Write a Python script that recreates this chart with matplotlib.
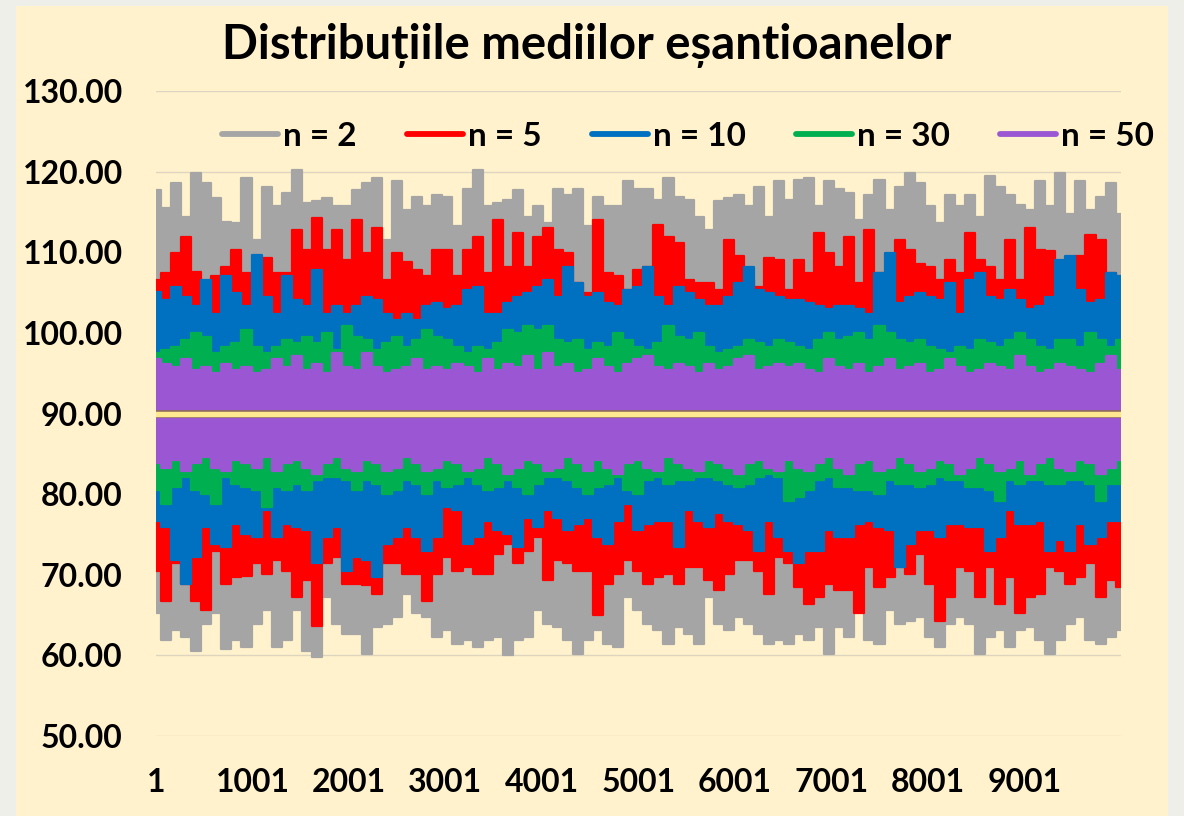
import numpy as np
import matplotlib
matplotlib.use("Agg")
import matplotlib.pyplot as plt
from matplotlib.lines import Line2D
from matplotlib.patches import Rectangle

plt.rcParams['font.family'] = ['Lato', 'DejaVu Sans']
plt.rcParams['font.weight'] = 'bold'

title = "Distribuțiile mediilor eșantioanelor"
series_names = ["n = 2", "n = 5", "n = 10", "n = 30", "n = 50"]
series_colors = ["#A5A5A5", "#FF0000", "#0070C0", "#00B050", "#9B57D3"]
n_samples = 10000
x_tick_labels = ["1", "1001", "2001", "3001", "4001", "5001", "6001", "7001", "8001", "9001"]
y_ticks = [50, 60, 70, 80, 90, 100, 110, 120, 130]
mean_line = 90.0

# Envelopes (upper / lower extremes) of each series of sample means, read column by column
grey_upper = [117.7, 115.5, 118.6, 114.4, 119.8, 118.6, 116.7, 113.8, 113.6, 119.2, 111.5, 118.1, 115.7, 117.3, 120.2,
              116.1, 116.3, 116.7, 115.7, 115.7, 117.7, 118.6, 119.2, 111.5, 118.8, 115.2, 116.9, 115.7, 117.1,
              116.9, 113.2, 117.9, 120.2, 115.7, 116.1, 116.5, 117.7, 114.4, 115.7, 113.6, 117.9, 117.1, 117.9,
              113.2, 116.9, 115.7, 115.7, 118.8, 117.9, 117.9, 116.5, 119.2, 116.9, 116.5, 114.4, 112.8, 116.3,
              116.7, 117.1, 115.7, 118.1, 114.4, 118.8,
              116.5, 119.0, 119.2, 115.7, 118.8, 117.9, 117.3, 114.0, 117.1, 119.0, 115.2, 118.1, 119.8, 118.6,
              115.7, 113.6, 117.1, 115.7, 117.1, 114.4, 119.4, 118.1, 117.1, 115.9, 115.2, 118.8, 115.7, 119.8,
              114.8, 118.8, 115.2, 116.9, 118.6, 114.8]
grey_lower = [65.2, 61.9, 63.1, 62.3, 60.6, 63.9, 65.2, 60.8, 61.9, 61.0, 63.9, 65.6, 61.0, 61.9, 65.6, 60.6, 59.8,
              67.2, 63.9, 62.7, 62.7, 60.2, 63.5, 63.9, 64.8, 67.6, 65.2, 64.8, 62.3,
              63.1, 61.4, 61.9, 61.0, 61.9, 62.3, 60.0, 61.9, 62.3, 65.6, 63.9, 63.5, 61.9, 60.2, 61.9, 63.1, 61.4,
              61.0, 67.2, 65.6, 63.9, 63.1, 61.4, 63.5, 62.7, 61.4, 67.2, 63.9, 63.1, 64.8, 63.9, 62.7, 61.4, 61.9,
              61.4, 62.7, 61.9, 63.5, 60.2, 63.5, 62.3, 66.4, 61.9, 61.4, 65.6, 63.9, 64.3, 64.8, 62.3, 61.0, 63.9,
              64.8, 63.9, 60.2, 62.3, 63.1, 61.0, 63.1, 63.5, 61.9, 60.2, 61.9, 63.9, 64.8, 61.9, 61.4, 62.3, 63.1]
red_upper = [106.6, 107.4, 109.9, 111.9, 107.6, 106.2, 107.0, 108.2, 110.3, 107.4, 106.6, 109.3, 107.4, 107.4, 112.8,
             110.3, 114.2, 110.3, 112.8, 109.0, 114.0, 109.9, 113.0, 106.6, 109.9, 108.8, 107.8, 107.0, 110.3,
             110.3, 107.0, 110.3, 111.9, 107.4, 114.0, 108.2, 112.4, 108.2, 111.9, 113.0, 110.3, 109.9, 106.2,
             104.9, 114.0, 107.4, 107.0, 105.3, 107.8, 108.2, 113.4, 111.9, 111.1, 106.6, 106.2, 106.2, 105.3,
             111.5, 109.5, 106.6, 105.7, 109.3, 109.0,
             105.3, 109.0, 107.4, 112.4, 109.9, 108.2, 111.9, 106.2, 112.8, 107.4, 105.7, 111.5, 110.3, 108.6,
             108.2, 106.6, 109.0, 107.4, 112.4, 109.0, 108.2, 106.6, 111.5, 106.6, 113.0, 110.3, 110.1, 106.6,
             107.4, 109.5, 112.1, 111.5, 107.4, 105.7]
red_lower = [70.5, 66.8, 71.4, 68.9, 66.8, 65.6, 73.0, 68.9, 69.7, 69.9, 71.4, 70.1, 71.8, 70.5, 67.2, 69.3, 63.7,
             71.4, 72.2, 68.9, 68.9, 68.7, 67.6, 71.4, 71.4, 70.1, 70.1, 66.8, 70.1,
             72.2, 70.5, 71.0, 70.1, 70.1, 72.6, 73.8, 71.4, 73.0, 74.7, 69.3, 71.8, 71.4, 70.5, 70.5, 65.0, 68.9,
             70.1, 71.8, 70.5, 68.9, 69.7, 70.1, 68.9, 71.0, 71.0, 69.3, 68.1, 70.1, 71.8, 71.8, 70.5, 67.6, 72.2,
             71.4, 68.5, 66.4, 67.2, 68.9, 68.1, 68.1, 65.2, 71.0, 68.5, 69.7, 71.0, 70.1, 72.6, 68.9, 64.3, 67.2,
             71.0, 70.5, 67.2, 71.0, 66.4, 69.7, 65.2, 67.2, 67.6, 71.0, 70.5, 68.9, 69.7, 71.4, 67.2, 69.3, 68.5]
blue_upper = [105.1, 104.1, 105.7, 104.5, 103.3, 106.6, 102.4, 107.0, 104.9, 103.3, 109.7, 104.5, 102.4, 107.0,
              104.1, 103.3, 107.8, 102.4, 103.3, 102.4, 103.3, 104.5, 104.1, 102.4, 101.6, 102.4, 101.6, 103.3, 103.7,
              102.9, 103.3, 105.3, 105.7, 102.4, 102.4, 103.7, 104.5, 104.9, 105.7, 106.6, 104.5, 108.2, 106.2,
              104.5, 104.9, 103.7, 103.3, 105.3, 105.7, 108.2, 104.5, 103.3, 105.7, 104.9, 104.1, 103.3, 103.3,
              104.5, 106.2, 108.2, 105.3, 104.9, 104.5,
              104.1, 104.1, 103.7, 103.3, 102.9, 103.3, 103.3, 102.9, 102.4, 107.4, 109.9, 103.7, 104.5, 104.9,
              104.5, 104.1, 106.2, 102.4, 106.6, 107.4, 104.5, 104.1, 105.3, 104.1, 102.9, 103.3, 104.5, 109.0,
              109.5, 105.3, 103.7, 104.1, 107.4, 107.0]
blue_lower = [76.7, 75.9, 71.8, 68.9, 72.2, 75.9, 73.8, 73.4, 76.3, 75.1, 74.7, 78.0, 74.7, 76.3, 75.9, 75.5, 71.4,
              74.7, 75.9, 70.5, 72.2, 71.8, 69.7, 73.8, 74.7, 75.9, 74.7, 73.0, 74.7,
              78.4, 78.0, 73.8, 74.7, 76.7, 75.5, 75.1, 73.4, 77.1, 75.9, 78.0, 77.1, 75.5, 76.3, 77.1, 74.7, 73.8,
              76.7, 78.8, 75.5, 76.3, 76.7, 76.7, 73.4, 78.0, 76.7, 75.9, 77.6, 76.7, 76.3, 75.5, 73.0, 76.7, 74.7,
              73.0, 71.4, 73.0, 73.0, 75.5, 74.7, 74.7, 76.3, 76.7, 75.9, 75.5, 71.0, 73.8, 75.5, 75.5, 74.7, 76.3,
              76.3, 75.9, 75.9, 73.0, 74.7, 78.0, 76.3, 76.3, 76.7, 73.0, 74.3, 73.0, 76.3, 73.8, 74.7, 76.7, 76.7]
green_upper = [97.5, 97.9, 98.3, 99.1, 100.0, 99.5, 97.5, 98.3, 98.7, 100.4, 98.3, 97.5, 98.3, 99.1, 98.7, 99.5,
               98.7, 100.0, 97.9, 100.8, 99.5, 99.1, 97.9, 98.7, 99.5, 98.3, 99.1, 100.4, 99.5,
               99.1, 98.3, 97.5, 98.3, 97.9, 98.7, 100.4, 100.0, 100.8, 100.4, 100.8, 99.1, 98.7, 99.1, 97.9, 98.7,
               98.3, 100.0, 99.1, 98.3, 97.9, 98.7, 100.8, 99.5, 99.1, 100.0, 98.3, 97.5, 97.9, 98.3, 99.1, 98.7,
               98.3, 99.1,
               98.7, 98.3, 97.9, 99.1, 100.0, 99.1, 99.5, 100.0, 99.1, 100.8, 100.0, 99.1, 98.7, 99.1, 98.3, 97.9,
               97.5, 98.3, 97.9, 99.1, 98.7, 98.3, 99.1, 100.0, 99.1, 98.3, 97.9, 99.1, 99.1, 98.3, 100.0, 99.1,
               98.3, 99.1]
green_lower = [80.5, 78.8, 80.9, 82.1, 80.5, 80.0, 78.8, 82.1, 81.3, 80.9, 80.5, 78.4, 80.9, 80.5, 81.3, 80.5, 81.7,
               82.1, 82.1, 81.7, 80.5, 81.7, 81.3, 80.0, 80.5, 81.7, 81.3, 80.0, 81.7,
               80.9, 81.3, 82.1, 81.3, 80.5, 80.9, 81.7, 80.9, 80.0, 81.3, 82.1, 82.1, 81.7, 80.9, 80.0, 80.9, 81.3,
               82.1, 80.5, 80.0, 81.7, 82.1, 81.3, 81.7, 81.7, 82.1, 82.1, 81.7, 81.3, 80.9, 81.3, 82.1, 82.5, 82.1,
               79.2, 79.6, 80.5, 81.7, 82.1, 80.9, 80.9, 80.5, 80.5, 80.0, 81.7, 81.3, 81.3, 80.9, 81.3, 82.1, 81.7,
               81.7, 80.9, 80.9, 80.5, 79.2, 81.7, 81.3, 81.7, 81.7, 81.3, 81.3, 81.7, 81.7, 81.3, 79.2, 81.3, 81.3]
purple_upper = [96.7, 96.2, 95.8, 96.7, 95.4, 95.8, 95.0, 96.2, 95.4, 95.8, 95.0, 95.4, 96.7, 95.8, 97.1, 95.4,
                96.2, 95.0, 97.5, 95.8, 95.4, 97.5, 95.8, 95.0, 95.4, 95.8, 96.7, 95.4, 95.8,
                95.4, 96.2, 95.8, 95.0, 96.7, 95.4, 96.2, 95.8, 97.1, 95.4, 97.5, 95.8, 96.2, 95.0, 95.4, 96.7, 95.8,
                95.0, 96.2, 96.7, 97.1, 95.8, 95.4, 96.2, 95.8, 95.0, 96.2, 95.4, 95.8, 96.7, 97.1, 95.4, 95.8, 96.2,
                95.8, 96.2, 95.4, 95.0, 96.7, 95.8, 95.4, 96.2, 95.0, 95.8, 96.7, 95.4, 95.8, 96.2, 95.0, 95.4, 96.7,
                95.8, 95.0, 95.4, 96.2, 95.8, 95.4, 97.1, 95.8, 95.0, 95.4, 96.2, 95.8, 95.4, 95.0, 96.2, 97.1, 95.4]
purple_lower = [83.8, 83.3, 84.2, 82.9, 83.8, 84.6, 83.3, 82.9, 84.2, 83.8, 83.3, 84.6, 82.9, 83.8, 84.2, 83.3, 82.5,
                83.8, 84.6, 83.3, 82.9, 84.2, 83.8, 82.9, 83.3, 84.6, 83.8, 82.9, 83.3,
                84.2, 83.8, 82.9, 83.3, 84.6, 83.8, 82.5, 83.3, 84.2, 83.8, 82.9, 83.3, 84.6, 83.8, 82.9, 84.2, 83.3,
                82.5, 83.8, 84.2, 83.3, 82.9, 84.6, 83.8, 83.3, 82.9, 84.2, 83.8, 83.3, 82.5, 83.8, 84.2, 83.3, 82.9,
                84.2, 83.3, 82.9, 83.8, 84.6, 83.3, 82.5, 83.8, 84.2, 82.9, 83.3, 84.6, 83.8, 82.9, 83.3, 84.2, 83.8,
                82.5, 83.3, 84.6, 83.8, 82.9, 83.3, 84.2, 82.5, 83.8, 84.6, 83.3, 82.9, 84.2, 83.8, 82.5, 83.3, 84.2]

uppers = [grey_upper, red_upper, blue_upper, green_upper, purple_upper]
lowers = [grey_lower, red_lower, blue_lower, green_lower, purple_lower]

BG = "#FFF2CC"
fig = plt.figure(figsize=(11.84, 8.16), dpi=100)
fig.patch.set_facecolor("#EEEFE8")
fig.patches.append(Rectangle((16 / 1184, 0), (1168 - 16) / 1184, (816 - 6) / 816,
                             transform=fig.transFigure, facecolor=BG, edgecolor="none", zorder=-10))

ax = fig.add_axes([156 / 1184, 1 - 736 / 816, 964.7 / 1184, 645 / 816])
ax.set_zorder(1)
ax.patch.set_alpha(0)
for s in ax.spines.values():
    s.set_visible(False)

for k, (up, lo, col) in enumerate(zip(uppers, lowers, series_colors)):
    n = min(len(up), len(lo))
    up = np.asarray(up[:n]); lo = np.asarray(lo[:n])
    xs = np.linspace(1, n_samples, n)
    ax.fill_between(xs, lo, up, step="mid", color=col, linewidth=0, zorder=2 + k)
    ax.plot(xs, up, drawstyle="steps-mid", color=col, lw=1.6, zorder=2 + k)
    ax.plot(xs, lo, drawstyle="steps-mid", color=col, lw=1.6, zorder=2 + k)

ax.axhline(mean_line, color="#8E6C5C", lw=5.6, zorder=10)
ax.axhline(mean_line, color="#FFE890", lw=3.9, zorder=11)

ax.set_ylim(50, 130)
ax.set_xlim(0.5, n_samples + 0.5)
ax.set_yticks(y_ticks)
ax.set_yticklabels([f"{v:.2f}" for v in y_ticks])
tick_pos = [1 + 1000 * i for i in range(len(x_tick_labels))]
ax.set_xticks(tick_pos)
ax.set_xticklabels(x_tick_labels)
ax.tick_params(axis="both", length=0, labelsize=23, colors="black")
ax.tick_params(axis="y", pad=24)
ax.tick_params(axis="x", pad=23)
ax.grid(axis="y", color="#DDD5BF", lw=1.0, zorder=1)
ax.set_axisbelow(True)

fig.text(587 / 1184, 1 - 45 / 816, title, ha="center", va="center", fontsize=34, fontweight="bold", color="black")

handles = [Line2D([0], [0], color=c, lw=4.2, solid_capstyle="round") for c in series_colors]
fig.legend(handles, series_names, loc="center", bbox_to_anchor=(688 / 1184, 1 - 136 / 816), ncol=5,
           frameon=False, fontsize=24, handlelength=1.68, handletextpad=0.15, columnspacing=1.5,
           borderaxespad=0, borderpad=0)

fig.savefig("out.png", dpi=100, facecolor=fig.get_facecolor())
